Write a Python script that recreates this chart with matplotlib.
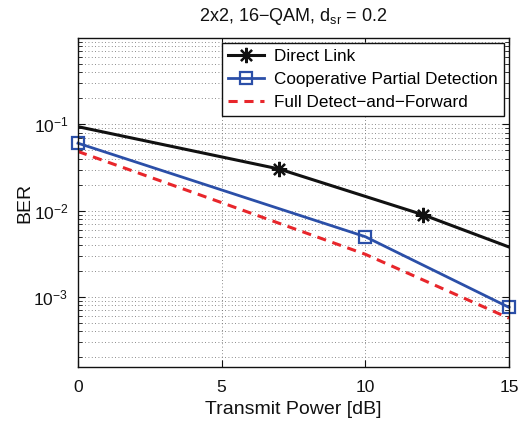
import matplotlib
matplotlib.use("Agg")
import matplotlib.pyplot as plt
from matplotlib.ticker import LogLocator, NullFormatter

plt.rcParams['font.family'] = ['Liberation Sans', 'DejaVu Sans']
plt.rcParams['mathtext.fontset'] = 'custom'
plt.rcParams['mathtext.rm'] = 'Liberation Sans'
plt.rcParams['mathtext.it'] = 'Liberation Sans'

# BER versus transmit power
power_direct = [0, 7, 12, 15]
ber_direct = [0.094, 0.0304, 0.0090, 0.0038]

power_coop = [0, 10, 15]
ber_coop = [0.0605, 0.0050, 0.00076]

power_full = [0, 5, 10, 15]
ber_full = [0.0485, 0.0124, 0.00313, 0.00057]

labels = ['Direct Link', 'Cooperative Partial Detection', 'Full Detect\u2212and\u2212Forward']


def main():
    fig = plt.figure(figsize=(5.19, 4.24), dpi=100)
    ax = fig.add_axes([78 / 519, 57 / 424, 431 / 519, 329 / 424])

    # asterisks only on the inner points of the direct link
    ax.plot(power_direct, ber_direct, color='#111111', lw=2.2,
            marker=(8, 2, 0), ms=11, mew=1.6, markevery=[1, 2], label=labels[0])
    ax.plot(power_coop, ber_coop, color='#2b4fa8', lw=2.0,
            marker='s', ms=9, mfc='none', mew=1.6, clip_on=False, label=labels[1])
    ax.plot(power_full, ber_full, color='#e8262b', lw=2.2,
            ls=(0, (3, 2.2)), label=labels[2])

    ax.set_yscale('log')
    ax.set_xlim(0, 15)
    ax.set_ylim(1.55e-4, 1.0)
    ax.set_xticks([0, 5, 10, 15])
    ax.yaxis.set_minor_locator(LogLocator(base=10, subs=range(2, 10), numticks=20))
    ax.yaxis.set_minor_formatter(NullFormatter())
    ax.set_yticks([1e-3, 1e-2, 1e-1])
    ax.set_yticklabels(['$10^{-3}$', '$10^{-2}$', '$10^{-1}$'])

    grid_kw = dict(ls=(0, (1, 3)), color='#666666', lw=0.6)
    ax.grid(True, which='major', **grid_kw)
    ax.grid(True, which='minor', axis='y', **grid_kw)
    ax.tick_params(which='both', direction='in', top=True, right=True,
                   labelsize=12.5, colors='#111111')
    ax.tick_params(axis='x', pad=9)
    ax.tick_params(axis='y', pad=7)
    ax.tick_params(which='major', length=5)
    ax.tick_params(which='minor', length=3)
    for s in ax.spines.values():
        s.set_linewidth(1.0)
        s.set_color('#111111')

    ax.set_xlabel('Transmit Power [dB]', fontsize=14, color='#111111', labelpad=5)
    ax.set_ylabel('BER', fontsize=14, color='#111111', labelpad=0)
    ax.set_title('2x2, 16\u2212QAM, d$_{\\mathrm{sr}}$ = 0.2', fontsize=13,
                 color='#111111', pad=12.5)

    leg = ax.legend(loc='upper right', fontsize=12.3, fancybox=False,
                    edgecolor='#111111', framealpha=1, handlelength=2.1,
                    handletextpad=0.6, borderaxespad=0.3, labelspacing=0.47,
                    borderpad=0.35)
    leg.get_frame().set_linewidth(1.0)

    fig.savefig('out.png', dpi=100)


if __name__ == "__main__":
    main()
